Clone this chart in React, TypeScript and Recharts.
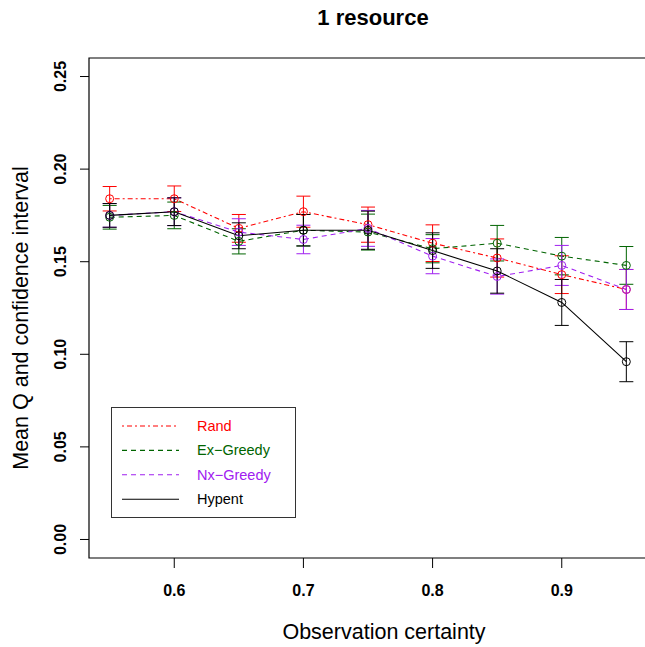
import React from "react";
import {
  ComposedChart,
  ErrorBar,
  Legend,
  Line,
  ReferenceArea,
  XAxis,
  YAxis,
} from "recharts";

const FONT = '"Liberation Sans", Arial, Helvetica, sans-serif';

const certainty = [0.55, 0.6, 0.65, 0.7, 0.75, 0.8, 0.85, 0.9, 0.95];

const randMean = [0.184, 0.184, 0.168, 0.177, 0.17, 0.16, 0.152, 0.143, 0.135];
const randCi = [0.0066, 0.0069, 0.0075, 0.0084, 0.0095, 0.0099, 0.0103, 0.0102, 0.0108];

const exGreedyMean = [0.174, 0.175, 0.161, 0.167, 0.166, 0.157, 0.16, 0.153, 0.148];
const exGreedyCi = [0.0064, 0.0072, 0.0068, 0.0085, 0.0097, 0.0076, 0.0096, 0.0101, 0.0102];

const nxGreedyMean = [0.175, 0.177, 0.166, 0.162, 0.168, 0.153, 0.142, 0.148, 0.135];
const nxGreedyCi = [0.0064, 0.0075, 0.0072, 0.0077, 0.0097, 0.0095, 0.0095, 0.0108, 0.0108];

const hypentMean = [0.175, 0.177, 0.164, 0.167, 0.167, 0.156, 0.145, 0.128, 0.096];
const hypentCi = [0.0064, 0.0075, 0.007, 0.0085, 0.0103, 0.0096, 0.012, 0.0124, 0.0108];

const xTicks = [0.6, 0.7, 0.8, 0.9];
const yTicks = [0, 0.05, 0.1, 0.15, 0.2, 0.25];

const series = [
  { key: "rand", name: "Rand", color: "#ff0000", dash: "2 3 5 3", mean: randMean, ci: randCi },
  { key: "ex", name: "Ex\u2212Greedy", color: "#006400", dash: "5 4", mean: exGreedyMean, ci: exGreedyCi },
  { key: "nx", name: "Nx\u2212Greedy", color: "#a020f0", dash: "5 4", mean: nxGreedyMean, ci: nxGreedyCi },
  { key: "hyp", name: "Hypent", color: "#000000", dash: undefined, mean: hypentMean, ci: hypentCi },
];

const data = certainty.map((x, i) => {
  const row: Record<string, number> = { x };
  series.forEach((s) => {
    row[s.key] = s.mean[i];
    row[s.key + "Ci"] = s.ci[i];
  });
  return row;
});

function XTick({ x, y, payload }: any) {
  return (
    <text x={x} y={y} textAnchor="middle" fontFamily={FONT} fontSize={16} fontWeight="bold" fill="#000">
      {payload.value.toFixed(1)}
    </text>
  );
}

function YTick({ x, y, payload }: any) {
  return (
    <text
      x={x}
      y={y}
      transform={`rotate(-90 ${x} ${y})`}
      textAnchor="middle"
      fontFamily={FONT}
      fontSize={16}
      fontWeight="bold"
      fill="#000"
    >
      {payload.value.toFixed(2)}
    </text>
  );
}

function LegendBox() {
  return (
    <svg width={185} height={111} style={{ display: "block" }}>
      <rect x={0.5} y={0.5} width={184} height={110} fill="#fff" stroke="#333" />
      {series.map((s, i) => {
        const cy = 19 + i * 24.4;
        return (
          <g key={s.key}>
            <line x1={11} x2={68} y1={cy} y2={cy} stroke={s.color} strokeWidth={1.1} strokeDasharray={s.dash} />
            <text x={86} y={cy + 5} fill={s.color} fontFamily={FONT} fontSize={14.5}>
              {s.name}
            </text>
          </g>
        );
      })}
    </svg>
  );
}

export default function App() {
  return (
    <div
      style={{
        position: "absolute",
        left: 0,
        top: 0,
        width: 645,
        height: 647,
        overflow: "hidden",
        background: "#fff",
      }}
    >
      <svg width={645} height={40} style={{ position: "absolute", left: 0, top: 0 }}>
        <text x={373} y={25} textAnchor="middle" fontFamily={FONT} fontSize={22} fontWeight="bold">
          1 resource
        </text>
      </svg>
      <ComposedChart
        width={660}
        height={647}
        data={data}
        margin={{ top: 58, right: 13, bottom: 0, left: 0 }}
      >
        <XAxis
          dataKey="x"
          type="number"
          domain={[0.534, 0.966]}
          ticks={xTicks}
          allowDataOverflow
          axisLine={false}
          tickSize={10}
          tickMargin={28}
          tickLine={{ stroke: "#000" }}
          tick={<XTick />}
          height={89}
          label={() => (
            <text x={384} y={639} textAnchor="middle" fontFamily={FONT} fontSize={21.5} fill="#000">
              Observation certainty
            </text>
          )}
        />
        <YAxis
          type="number"
          domain={[-0.01, 0.26]}
          ticks={yTicks}
          allowDataOverflow
          axisLine={false}
          tickSize={9}
          tickMargin={14}
          tickLine={{ stroke: "#000" }}
          tick={<YTick />}
          width={89}
          label={() => (
            <text
              x={28}
              y={318}
              transform="rotate(-90 28 318)"
              textAnchor="middle"
              fontFamily={FONT}
              fontSize={21.5}
              fill="#000"
            >
              Mean Q and confidence interval
            </text>
          )}
        />
        <ReferenceArea
          x1={0.534}
          x2={0.966}
          y1={-0.01}
          y2={0.26}
          fill="none"
          stroke="#000"
          strokeWidth={1.2}
          ifOverflow="visible"
        />
        {series.map((s) => (
          <Line
            key={s.key}
            dataKey={s.key}
            name={s.name}
            type="linear"
            stroke={s.color}
            strokeWidth={1.1}
            strokeDasharray={s.dash}
            dot={{ r: 4, fill: "none", stroke: s.color, strokeWidth: 1, strokeDasharray: "" }}
            activeDot={false}
            isAnimationActive={false}
          >
            <ErrorBar dataKey={s.key + "Ci"} width={7} stroke={s.color} strokeWidth={1} direction="y" />
          </Line>
        ))}
        <Legend
          layout="vertical"
          align="center"
          verticalAlign="middle"
          content={() => <LegendBox />}
          wrapperStyle={{ left: 111, top: 407, width: 185, height: 111 }}
        />
      </ComposedChart>
    </div>
  );
}
